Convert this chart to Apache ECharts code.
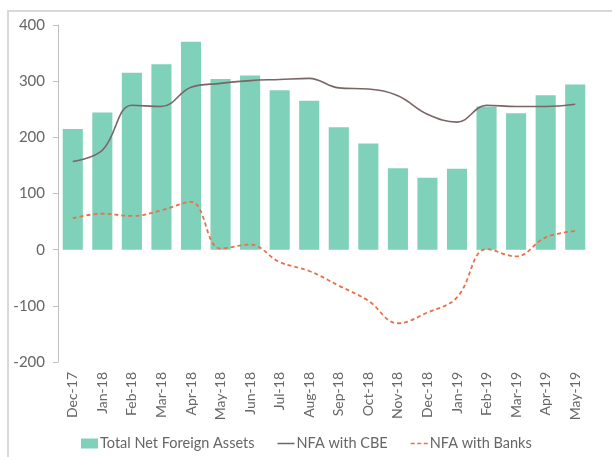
<html>
<head>
<meta charset="utf-8">
<title>Net Foreign Assets</title>
<script src="https://cdn.jsdelivr.net/npm/echarts@6/dist/echarts.min.js"></script>
</head>
<body style="margin:0">
	<div id="main" style="width: 612px; height: 457px;"></div>
	<script type="text/javascript">
		var months = ['Dec-17', 'Jan-18', 'Feb-18', 'Mar-18', 'Apr-18', 'May-18', 'Jun-18', 'Jul-18', 'Aug-18',
			'Sep-18', 'Oct-18', 'Nov-18', 'Dec-18', 'Jan-19', 'Feb-19', 'Mar-19', 'Apr-19', 'May-19'];
		var totalNFA = [215, 244, 315, 330, 370, 304, 310, 284, 265, 218, 189, 145, 128, 144, 255, 243, 275, 294];
		var nfaCBE = [157, 177, 257, 255, 289, 296, 301, 303, 305, 288, 286, 274, 241, 227, 257, 255, 255, 259];
		var nfaBanks = [56, 64, 60, 70, 85, 2, 9, -22, -38, -64, -91, -131, -112, -85, 1, -12, 22, 33];

		var myChart = echarts.init(document.getElementById('main'));
		var font = 'Lato, "DejaVu Sans", sans-serif';
		// legend icons: tiny specks at top/bottom keep the box 17x10
		var specks = 'M0,0h0.01v0.01h-0.01z M0,10h0.01v0.01h-0.01z ';
		var solidIcon = 'path://' + specks + 'M0,4.2h17v1.6h-17z';
		var dashIcon = 'path://' + specks + 'M0,4.2h4v1.6h-4z M6.5,4.2h4v1.6h-4z M13,4.2h4v1.6h-4z';

		myChart.setOption({
			animation: false,
			textStyle: { fontFamily: font },
			graphic: [{
				type: 'rect',
				shape: { x: 8, y: 11, width: 700, height: 600 },
				style: { fill: 'none', stroke: '#d9d9d9', lineWidth: 2 }
			}],
			grid: { left: 58, right: 22, top: 25, bottom: 95 },
			legend: {
				bottom: 1,
				left: 76,
				itemWidth: 17,
				itemHeight: 10,
				itemGap: 23,
				textStyle: { color: '#666666', fontSize: 14.5, fontFamily: font, padding: [0, 0, 0, -3] },
				data: [
					{ name: 'Total Net Foreign Assets', icon: 'rect' },
					{ name: 'NFA with CBE', icon: solidIcon },
					{ name: 'NFA with Banks', icon: dashIcon }
				]
			},
			xAxis: {
				type: 'category',
				data: months,
				axisLine: { show: false, onZero: false },
				axisTick: { show: false },
				axisLabel: { rotate: 90, interval: 0, color: '#666666', fontSize: 14, margin: 10 }
			},
			yAxis: {
				type: 'value',
				min: -200,
				max: 400,
				interval: 100,
				axisLine: { show: true, lineStyle: { color: '#bfbfbf' } },
				axisTick: { show: true, length: 5, lineStyle: { color: '#bfbfbf' } },
				splitLine: { show: false },
				axisLabel: { color: '#666666', fontSize: 15, margin: 13 }
			},
			series: [
				{
					name: 'Total Net Foreign Assets',
					type: 'bar',
					data: totalNFA,
					barCategoryGap: '32%',
					itemStyle: { color: '#7fd1b9' }
				},
				{
					name: 'NFA with CBE',
					type: 'line',
					data: nfaCBE,
					smooth: 0.4,
					symbol: 'none',
					lineStyle: { color: '#7a6565', width: 1.6 },
					itemStyle: { color: '#7a6565' }
				},
				{
					name: 'NFA with Banks',
					type: 'line',
					data: nfaBanks,
					smooth: 0.4,
					symbol: 'none',
					lineStyle: { color: '#e8714a', width: 1.8, type: [4, 3] },
					itemStyle: { color: '#e8714a' }
				}
			]
		});
	</script>
</body>
</html>
